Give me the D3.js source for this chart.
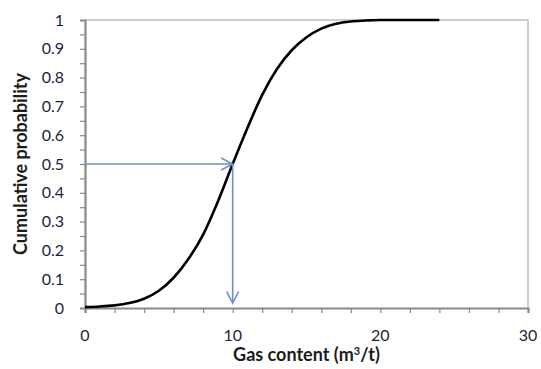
<!DOCTYPE html>
<html>
<head>
<meta charset="utf-8">
<script src="https://cdn.jsdelivr.net/npm/d3@7"></script>
<style>
  html, body { margin: 0; padding: 0; background: #fff; }
  svg { display: block; }
  text { font-family: Lato, "Open Sans", sans-serif; }
</style>
</head>
<body>
<svg id="chart" width="541" height="369"></svg>
<script>
// Gas content (m3/t) and cumulative probability of the fitted distribution
const gasContent = [0, 1, 2, 3, 4, 5, 6, 7, 8, 9, 10, 11, 12, 13, 14, 15, 16, 17, 18, 19, 20, 21, 22, 23, 24];
const cumProb = [0.003, 0.005, 0.009, 0.017, 0.032, 0.06, 0.105, 0.17, 0.255, 0.37, 0.5, 0.625, 0.74, 0.83, 0.895, 0.94, 0.97, 0.987, 0.995, 0.998, 1, 1, 1, 1, 1];

// Median read-off: 50% probability corresponds to 10 m3/t
const medianProb = 0.5;
const medianGas = 10;

const xTickLabels = [0, 10, 20, 30];
const yTickLabels = [0, 0.1, 0.2, 0.3, 0.4, 0.5, 0.6, 0.7, 0.8, 0.9, 1];

const svg = d3.select("#chart");
const margin = { left: 85, right: 13, top: 20, bottom: 61 };
const W = 541, H = 369;

const x = d3.scaleLinear().domain([0, 30]).range([margin.left, W - margin.right]);
const y = d3.scaleLinear().domain([0, 1]).range([H - margin.bottom, margin.top]);

const axisGrey = "#8a8a8a";
const labelColor = "#1c1f3a";
const arrowColor = "#6b91cb";

// plot frame (top and right)
svg.append("path")
  .attr("d", `M${x(0)},${y(1)}H${x(30)}V${y(0)}`)
  .attr("fill", "none")
  .attr("stroke", "#bdbdbd")
  .attr("stroke-width", 1.5);

// y axis
const yAxis = d3.axisLeft(y)
  .tickValues(d3.range(0, 1.0001, 0.05))
  .tickSize(5)
  .tickFormat("");
const gy = svg.append("g").attr("transform", `translate(${x(0)},0)`).call(yAxis);
gy.select(".domain").attr("stroke", axisGrey).attr("stroke-width", 2.2);
gy.selectAll(".tick line").attr("stroke", axisGrey).attr("stroke-width", 1.2);

svg.append("g").selectAll("text")
  .data(yTickLabels)
  .join("text")
  .attr("x", x(0) - 21)
  .attr("y", d => y(d))
  .attr("dy", "0.35em")
  .attr("text-anchor", "end")
  .attr("fill", labelColor)
  .style("font-size", "16px")
  .text(d => d3.format("")(d));

// x axis
const xAxis = d3.axisBottom(x)
  .tickValues(d3.range(0, 30.001, 2))
  .tickSize(5)
  .tickFormat("");
const gx = svg.append("g").attr("transform", `translate(0,${y(0)})`).call(xAxis);
gx.select(".domain").attr("stroke", axisGrey).attr("stroke-width", 2.2);
gx.selectAll(".tick line").attr("stroke", axisGrey).attr("stroke-width", 1.2);

svg.append("g").selectAll("text")
  .data(xTickLabels)
  .join("text")
  .attr("x", d => x(d))
  .attr("y", y(0) + 27)
  .attr("dy", "0.35em")
  .attr("text-anchor", "middle")
  .attr("fill", labelColor)
  .style("font-size", "16px")
  .text(d => d);

// axis titles
const xTitle = svg.append("text")
  .attr("x", (x(0) + x(30)) / 2)
  .attr("y", 361)
  .attr("text-anchor", "middle")
  .attr("fill", "#1c1c1c")
  .style("font-size", "18px")
  .style("font-weight", "bold");
xTitle.append("tspan").text("Gas content (m");
xTitle.append("tspan").attr("dy", -6).style("font-size", "11px").text("3");
xTitle.append("tspan").attr("dy", 6).text("/t)");

svg.append("text")
  .attr("transform", `translate(21,${(y(0) + y(1)) / 2}) rotate(-90)`)
  .attr("text-anchor", "middle")
  .attr("dy", "0.35em")
  .attr("fill", "#1c1c1c")
  .style("font-size", "18px")
  .style("font-weight", "bold")
  .text("Cumulative probability");

// cumulative distribution curve
const line = d3.line()
  .x(d => x(d[0]))
  .y(d => y(d[1]))
  .curve(d3.curveMonotoneX);
svg.append("path")
  .datum(d3.zip(gasContent, cumProb))
  .attr("d", line)
  .attr("fill", "none")
  .attr("stroke", "#000")
  .attr("stroke-width", 2.6)
  .attr("stroke-linejoin", "round");

// read-off arrows: probability -> gas content
const defs = svg.append("defs");
defs.append("marker")
  .attr("id", "head")
  .attr("viewBox", "0 0 14 14")
  .attr("refX", 12.5)
  .attr("refY", 7)
  .attr("markerWidth", 14)
  .attr("markerHeight", 14)
  .attr("markerUnits", "userSpaceOnUse")
  .attr("orient", "auto")
  .append("path")
  .attr("d", "M1,1L12.5,7L1,13")
  .attr("fill", "none")
  .attr("stroke", arrowColor)
  .attr("stroke-width", 1.6);

svg.append("line")
  .attr("x1", x(0)).attr("y1", y(medianProb))
  .attr("x2", x(medianGas)).attr("y2", y(medianProb))
  .attr("stroke", arrowColor)
  .attr("stroke-width", 1.6)
  .attr("marker-end", "url(#head)");

svg.append("line")
  .attr("x1", x(medianGas)).attr("y1", y(medianProb))
  .attr("x2", x(medianGas)).attr("y2", y(0) - 5)
  .attr("stroke", arrowColor)
  .attr("stroke-width", 1.6)
  .attr("marker-end", "url(#head)");
</script>
</body>
</html>
